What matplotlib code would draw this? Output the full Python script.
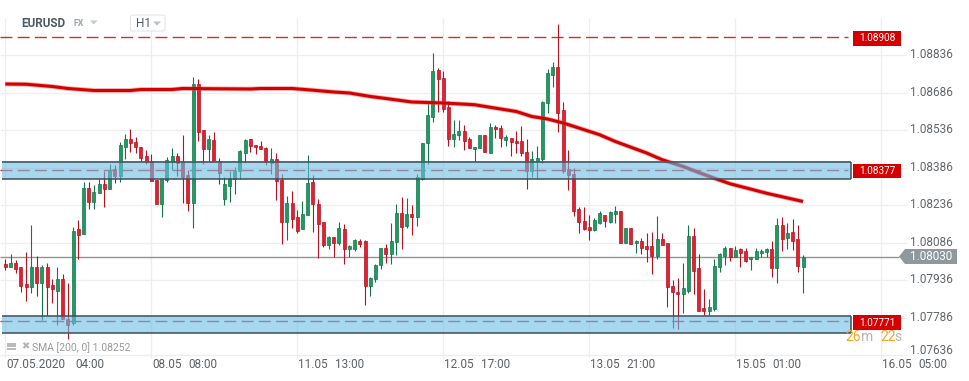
import matplotlib
matplotlib.use("Agg")
import matplotlib.pyplot as plt
from matplotlib.patches import Rectangle, Polygon, FancyBboxPatch
import numpy as np

plt.rcParams['lines.scale_dashes'] = False

symbol = "EURUSD"
market = "FX"
interval = "H1"

opens = [
1.07999, 1.07989, 1.08003, 1.07987, 1.07920, 1.07909, 1.07987, 1.07923, 1.07987, 1.07915,
1.07893, 1.07939, 1.07779, 1.07763, 1.08139, 1.08119, 1.08303, 1.08249, 1.08285, 1.08319,
1.08301, 1.08379, 1.08353, 1.08469, 1.08499, 1.08488, 1.08469, 1.08431, 1.08413, 1.08336,
1.08239, 1.08336, 1.08408, 1.08431, 1.08408, 1.08355, 1.08245, 1.08719, 1.08536, 1.08459,
1.08496, 1.08413, 1.08259, 1.08313, 1.08339, 1.08372, 1.08445, 1.08499, 1.08475, 1.08472,
1.08464, 1.08405, 1.08420, 1.08336, 1.08169, 1.08243, 1.08187, 1.08139, 1.08195, 1.08328,
1.08239, 1.08169, 1.08075, 1.08107, 1.08083, 1.08139, 1.08059, 1.08061, 1.08092, 1.08091,
1.07913, 1.07939, 1.07995, 1.08063, 1.08039, 1.08087, 1.08203, 1.08152, 1.08200, 1.08187,
1.08339, 1.08483, 1.08587, 1.08775, 1.08743, 1.08627, 1.08499, 1.08515, 1.08531, 1.08499,
1.08459, 1.08463, 1.08515, 1.08445, 1.08549, 1.08543, 1.08496, 1.08503, 1.08492, 1.08491,
1.08447, 1.08373, 1.08413, 1.08419, 1.08643, 1.08756, 1.08787, 1.08616, 1.08379, 1.08360,
1.08219, 1.08172, 1.08147, 1.08136, 1.08163, 1.08195, 1.08168, 1.08200, 1.08211, 1.08085,
1.08143, 1.08083, 1.08092, 1.08072, 1.08072, 1.08033, 1.08100, 1.08083, 1.07912, 1.07888,
1.07879, 1.07893, 1.08112, 1.07983, 1.07823, 1.07812, 1.07821, 1.07987, 1.08032, 1.08063,
1.08029, 1.08059, 1.08052, 1.08019, 1.08021, 1.08043, 1.08047, 1.08059, 1.07983, 1.08155,
1.08105, 1.08128, 1.08099, 1.07989]

highs = [
1.08020, 1.08040, 1.08016, 1.07987, 1.08048, 1.08156, 1.08032, 1.07995, 1.08005, 1.07939,
1.07987, 1.07960, 1.07923, 1.08149, 1.08176, 1.08327, 1.08327, 1.08315, 1.08339, 1.08373,
1.08400, 1.08395, 1.08488, 1.08520, 1.08539, 1.08507, 1.08469, 1.08456, 1.08439, 1.08336,
1.08339, 1.08427, 1.08464, 1.08443, 1.08515, 1.08376, 1.08747, 1.08739, 1.08536, 1.08517,
1.08528, 1.08423, 1.08347, 1.08372, 1.08387, 1.08456, 1.08501, 1.08499, 1.08475, 1.08492,
1.08469, 1.08465, 1.08443, 1.08360, 1.08272, 1.08292, 1.08216, 1.08252, 1.08436, 1.08356,
1.08259, 1.08169, 1.08112, 1.08107, 1.08168, 1.08159, 1.08075, 1.08099, 1.08099, 1.08096,
1.07947, 1.08000, 1.08063, 1.08079, 1.08165, 1.08240, 1.08269, 1.08264, 1.08236, 1.08360,
1.08483, 1.08643, 1.08843, 1.08784, 1.08771, 1.08653, 1.08576, 1.08576, 1.08556, 1.08509,
1.08469, 1.08515, 1.08515, 1.08563, 1.08555, 1.08555, 1.08515, 1.08503, 1.08532, 1.08552,
1.08500, 1.08452, 1.08472, 1.08653, 1.08779, 1.08807, 1.08960, 1.08648, 1.08456, 1.08383,
1.08227, 1.08227, 1.08195, 1.08183, 1.08211, 1.08195, 1.08212, 1.08232, 1.08211, 1.08143,
1.08143, 1.08096, 1.08104, 1.08125, 1.08129, 1.08192, 1.08125, 1.08084, 1.07936, 1.07943,
1.08003, 1.08156, 1.08143, 1.08040, 1.07899, 1.07859, 1.08020, 1.08043, 1.08072, 1.08063,
1.08072, 1.08064, 1.08063, 1.08027, 1.08064, 1.08061, 1.08064, 1.08093, 1.08183, 1.08187,
1.08163, 1.08179, 1.08155, 1.08037]

lows = [
1.07976, 1.07989, 1.07965, 1.07889, 1.07853, 1.07885, 1.07872, 1.07776, 1.07795, 1.07845,
1.07756, 1.07779, 1.07699, 1.07756, 1.08021, 1.08119, 1.08221, 1.08221, 1.08283, 1.08229,
1.08301, 1.08323, 1.08329, 1.08421, 1.08448, 1.08445, 1.08413, 1.08399, 1.08331, 1.08239,
1.08189, 1.08329, 1.08376, 1.08353, 1.08245, 1.08213, 1.08145, 1.08493, 1.08400, 1.08413,
1.08413, 1.08320, 1.08237, 1.08249, 1.08280, 1.08339, 1.08408, 1.08449, 1.08440, 1.08461,
1.08397, 1.08360, 1.08256, 1.08080, 1.08096, 1.08145, 1.08123, 1.08139, 1.08195, 1.08128,
1.08023, 1.08067, 1.08061, 1.08029, 1.08075, 1.07999, 1.08029, 1.08053, 1.08069, 1.07837,
1.07873, 1.07929, 1.07979, 1.08003, 1.07999, 1.08035, 1.08059, 1.08143, 1.08116, 1.08153,
1.08336, 1.08400, 1.08569, 1.08609, 1.08609, 1.08472, 1.08469, 1.08496, 1.08456, 1.08463,
1.08413, 1.08463, 1.08447, 1.08445, 1.08504, 1.08469, 1.08472, 1.08433, 1.08445, 1.08433,
1.08300, 1.08349, 1.08345, 1.08403, 1.08603, 1.08709, 1.08529, 1.08365, 1.08296, 1.08192,
1.08123, 1.08136, 1.08096, 1.08132, 1.08159, 1.08149, 1.08163, 1.08165, 1.08084, 1.08084,
1.08080, 1.08045, 1.08039, 1.08009, 1.07959, 1.08019, 1.08076, 1.07829, 1.07745, 1.07741,
1.07803, 1.07883, 1.07879, 1.07812, 1.07796, 1.07796, 1.07813, 1.07969, 1.07996, 1.08013,
1.08027, 1.07989, 1.08009, 1.07976, 1.08019, 1.08029, 1.08029, 1.07949, 1.07925, 1.08053,
1.08060, 1.08056, 1.07969, 1.07885]

closes = [
1.07989, 1.08004, 1.07981, 1.07913, 1.07909, 1.07987, 1.07923, 1.07987, 1.07909, 1.07899,
1.07939, 1.07779, 1.07756, 1.08133, 1.08116, 1.08303, 1.08249, 1.08287, 1.08319, 1.08301,
1.08373, 1.08353, 1.08475, 1.08499, 1.08483, 1.08467, 1.08425, 1.08408, 1.08331, 1.08239,
1.08339, 1.08416, 1.08431, 1.08403, 1.08349, 1.08245, 1.08719, 1.08529, 1.08459, 1.08499,
1.08413, 1.08365, 1.08320, 1.08343, 1.08373, 1.08452, 1.08496, 1.08472, 1.08467, 1.08461,
1.08408, 1.08420, 1.08333, 1.08169, 1.08243, 1.08181, 1.08133, 1.08200, 1.08323, 1.08239,
1.08159, 1.08075, 1.08107, 1.08083, 1.08143, 1.08059, 1.08071, 1.08095, 1.08081, 1.07913,
1.07943, 1.07996, 1.08063, 1.08039, 1.08091, 1.08203, 1.08149, 1.08200, 1.08187, 1.08349,
1.08483, 1.08595, 1.08771, 1.08739, 1.08620, 1.08499, 1.08519, 1.08531, 1.08493, 1.08463,
1.08469, 1.08515, 1.08447, 1.08547, 1.08539, 1.08503, 1.08508, 1.08487, 1.08483, 1.08443,
1.08373, 1.08419, 1.08423, 1.08648, 1.08763, 1.08789, 1.08605, 1.08371, 1.08355, 1.08213,
1.08169, 1.08141, 1.08136, 1.08175, 1.08203, 1.08173, 1.08208, 1.08212, 1.08085, 1.08143,
1.08080, 1.08092, 1.08065, 1.08061, 1.08033, 1.08100, 1.08077, 1.07907, 1.07887, 1.07879,
1.07904, 1.08112, 1.07973, 1.07812, 1.07813, 1.07828, 1.07992, 1.08039, 1.08065, 1.08029,
1.08056, 1.08045, 1.08012, 1.08027, 1.08051, 1.08051, 1.08059, 1.07983, 1.08155, 1.08101,
1.08123, 1.08093, 1.07993, 1.08029]

# SMA(200) read at selected candle indices
sma_idx = [0, 4, 9, 12, 17, 24, 26, 32, 34, 40, 47, 49, 55, 58, 63, 66, 70, 73, 78, 84,
           90, 98, 101, 104, 107, 110, 114, 117, 123, 126, 130, 133, 136, 139, 146, 153]
sma_val = [1.08720, 1.08719, 1.08710, 1.08702, 1.08694, 1.08694, 1.08698, 1.08698, 1.08702, 1.08701,
           1.08700, 1.08702, 1.08702, 1.08697, 1.08688, 1.08684, 1.08670, 1.08662, 1.08648, 1.08644,
           1.08637, 1.08610, 1.08590, 1.08580, 1.08564, 1.08544, 1.08517, 1.08490, 1.08444, 1.08417,
           1.08390, 1.08366, 1.08343, 1.08321, 1.08283, 1.08250]
sma_label = "SMA [200, 0] 1.08252"

# horizontal levels
resistance_level = 1.08908
zone_levels = [1.08377, 1.07771]
zone_bounds = [(1.08339, 1.08410), (1.07723, 1.07793)]
last_price = 1.08030

# axis ticks
price_ticks = [1.07636, 1.07786, 1.07936, 1.08086, 1.08236, 1.08386, 1.08536, 1.08686, 1.08836]
time_tick_idx = [0, 28, 56, 84, 112, 140, 168]
time_tick_dates = ["07.05.2020", "08.05", "11.05", "12.05", "13.05", "15.05", "16.05"]
time_tick_times = ["04:00", "08:00", "13:00", "17:00", "21:00", "01:00", "05:00"]

countdown = [("26", "#f5a623"), ("m", "#b5b5b5"), ("22", "#f5a623"), ("s", "#b5b5b5")]

# ---------------------------------------------------------------- figure
W, H = 970, 381
fig = plt.figure(figsize=(W / 100, H / 100), dpi=100)
ax = fig.add_axes([0, 0, 1, 1])
ax.axis('off')

# scale: candle 0 at pixel x0, dx pixels per candle; price p0 at pixel row 0
X0, DX = 5.3, 5.214
P0, PPX = 1.09056, 4.0e-5


def xd(px):
    return (px - X0) / DX


def yd(py):
    return P0 - PPX * py


ax.set_xlim(xd(0), xd(W))
ax.set_ylim(yd(H), yd(0))

FONT = "Roboto"
GRID = "#eeeeee"

# grid
ax.hlines(price_ticks, xd(0), xd(907), color=GRID, lw=0.9, zorder=0)
ax.vlines(time_tick_idx, yd(358), yd(18), color=GRID, lw=0.9, zorder=0)

# y tick labels
for p in price_ticks:
    yy = p if p > price_ticks[0] else yd(350)
    ax.text(xd(910), yy, f"{p:.5f}", fontsize=8.5, family=FONT, color="#60666b",
            ha="left", va="center")

# x tick labels
for i, d, t in zip(time_tick_idx, time_tick_dates, time_tick_times):
    ax.text(i + 0.2, yd(364), d, fontsize=8.5, family=FONT, color="#5b6166",
            ha="left", va="center")
    off = 69 if len(d) > 5 else 36.5
    ax.annotate(t, xy=(i + 0.2, yd(364)), xytext=(off * 0.72, 0), textcoords="offset points",
                fontsize=8.5, family=FONT, color="#5b6166", ha="left", va="center")

# current price line
ax.hlines(last_price, xd(0), xd(899), color="#8d9598", lw=1.0, zorder=1)

# dashed levels (zone levels lie under the translucent zones)
dash = (8.6, 3.8)
ax.plot([xd(0), xd(848)], [resistance_level] * 2, color="#e02a2a", lw=1.0,
        dashes=dash, zorder=2)
for lv in zone_levels:
    ax.plot([xd(0), xd(848)], [lv] * 2, color="#e02a2a", lw=1.0, dashes=dash, zorder=2)

# candles
o = np.array(opens); h = np.array(highs); l = np.array(lows); c = np.array(closes)
idx = np.arange(len(o))
up = c >= o
face = np.where(up, "#1f9a60", "#e3202f")
edge = np.where(up, "#137449", "#b41220")
ax.vlines(idx, l, h, colors=edge, lw=0.8, zorder=3)
body_lo = np.minimum(o, c)
body_h = np.maximum(np.abs(c - o), PPX * 1.2)
ax.bar(idx, body_h, bottom=body_lo, width=3.0 / DX, color=face, edgecolor=edge,
       linewidth=0.5, zorder=4)

# SMA line
ax.plot(sma_idx, sma_val, color="#e45050", lw=3.4, alpha=0.45, zorder=5,
        solid_capstyle="butt", solid_joinstyle="round")
ax.plot(sma_idx, sma_val, color="#d20000", lw=2.2, zorder=5,
        solid_capstyle="butt", solid_joinstyle="round")

# translucent zones
for lo, hi in zone_bounds:
    ax.add_patch(Rectangle((xd(2), lo), xd(851) - xd(2), hi - lo,
                           facecolor=(107 / 255, 190 / 255, 230 / 255, 0.6),
                           edgecolor="none", zorder=6))
    ax.hlines([lo, hi], xd(2), xd(851), color="#3e4d58", lw=1.1, zorder=7)
    ax.vlines(xd(851), lo, hi, color="#3e4d58", lw=1.1, zorder=7)

# level tags
for lv in [resistance_level] + zone_levels:
    ax.add_patch(Rectangle((xd(853), lv - PPX * 8.5), xd(901) - xd(853), PPX * 14.5,
                           facecolor="#d40000", edgecolor="none", zorder=8))
    ax.text((xd(853) + xd(901)) / 2, lv - PPX * 1.3, f"{lv:.5f}", fontsize=7.2,
            family=FONT, color="white", ha="center", va="center", zorder=9)

# last price tag
tag = [(xd(899), last_price), (xd(905), last_price + PPX * 7.5),
       (xd(957), last_price + PPX * 7.5), (xd(957), last_price - PPX * 7.5),
       (xd(905), last_price - PPX * 7.5)]
ax.add_patch(Polygon(tag, closed=True, facecolor="#8e989d", edgecolor="none", zorder=8))
ax.text(xd(931), last_price, f"{last_price:.5f}", fontsize=8.4, family=FONT,
        color="white", ha="center", va="center", zorder=9)

# countdown
for (s, col), px in zip(countdown, [845, 861.5, 880, 894.5]):
    ax.text(xd(px), yd(337), s, fontsize=10, family=FONT, color=col,
            ha="left", va="center", zorder=9)

# legend (bottom left)
for k in range(3):
    ax.plot([xd(7), xd(16.5)], [yd(343.5 + 2.6 * k)] * 2, color="#b3b3b3", lw=1.3,
            solid_capstyle="butt")
ax.text(xd(25), yd(346), "\u2716", fontsize=7, family="DejaVu Sans", color="#b3b3b3",
        ha="center", va="center")
ax.text(xd(32), yd(348), sma_label, fontsize=7.5, family=FONT, color="#9a9a9a",
        ha="left", va="center")

# header
ax.text(xd(21), yd(23.5), symbol, fontsize=8.5, family=FONT, weight="bold",
        color="#4d5962", ha="left", va="center")
ax.text(xd(74), yd(24), market, fontsize=6.3, family=FONT, weight="bold",
        color="#98a6b0", ha="left", va="center")
ax.add_patch(Polygon([(xd(90), yd(20.5)), (xd(97.5), yd(20.5)), (xd(93.75), yd(24.5))],
                     closed=True, facecolor="#c3c9cd", edgecolor="none"))
ax.add_patch(FancyBboxPatch((xd(130.5), yd(31)), xd(165) - xd(130.5), yd(15) - yd(31),
                            boxstyle="round,pad=0,rounding_size=0.4",
                            mutation_aspect=PPX * 5.2,
                            facecolor="white", edgecolor="#e1e5e8", lw=0.8))
ax.text(xd(136), yd(23.5), interval, fontsize=8.5, family=FONT, color="#4d5962",
        ha="left", va="center")
ax.add_patch(Polygon([(xd(153), yd(21.5)), (xd(161), yd(21.5)), (xd(157), yd(25.5))],
                     closed=True, facecolor="#bcc2c6", edgecolor="none"))

fig.savefig("out.png", dpi=100)
